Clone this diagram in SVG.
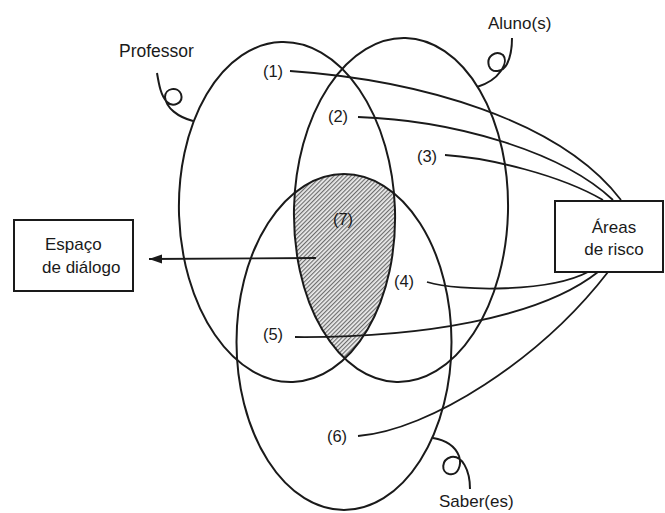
<svg xmlns="http://www.w3.org/2000/svg" width="665" height="513" viewBox="0 0 665 513">
<style>
.sh{fill:none;stroke:#1a1a1a;stroke-width:2}
.cn{fill:none;stroke:#1a1a1a;stroke-width:1.8}
.bx{fill:#fff;stroke:#1a1a1a;stroke-width:2}
.t{font-family:"Liberation Sans",Arial,sans-serif;font-size:17px;fill:#1a1a1a}
.n{font-family:"Liberation Sans",Arial,sans-serif;font-size:16.5px;fill:#1a1a1a;text-anchor:middle}
</style>
<defs>
<pattern id="hatch" width="3" height="3" patternUnits="userSpaceOnUse" patternTransform="rotate(45)">
<rect width="3" height="3" fill="#ececec"/>
<line x1="0.6" y1="0" x2="0.6" y2="3" stroke="#666" stroke-width="1.1"/>
</pattern>
<clipPath id="clipP"><ellipse cx="287" cy="212" rx="108" ry="170" transform="rotate(-2 287 212)"/></clipPath>
<clipPath id="clipA"><ellipse cx="401" cy="210" rx="107" ry="172" transform="rotate(1.5 401 210)"/></clipPath>
<marker id="ah" markerWidth="14" markerHeight="10" refX="13" refY="5" orient="auto" markerUnits="userSpaceOnUse">
<path d="M0,0.5 L13,5 L0,9.5 Z" fill="#1a1a1a"/>
</marker>
</defs>

<g id="hatched-region">
<g clip-path="url(#clipP)"><g clip-path="url(#clipA)">
<ellipse cx="344" cy="342" rx="107.5" ry="168" fill="url(#hatch)"/>
</g></g>
</g>

<g id="professor">
<ellipse class="sh" cx="287" cy="212" rx="108" ry="170" transform="rotate(-2 287 212)"/>
<path class="sh" d="M157,73 C159,85 161,96 167,102 C173,108 184,103 181,94 C178,86 165,88 165,97 C166,108 178,117 193,121"/>
<text class="t" x="119" y="57" style="font-size:17.5px">Professor</text>
</g>

<g id="aluno">
<ellipse class="sh" cx="401" cy="210" rx="107" ry="172" transform="rotate(1.5 401 210)"/>
<path class="sh" d="M512,38 C512,48 511,56 507,64 C503,72 492,74 489,66 C486,56 496,50 503,55 C509,62 500,80 477,87"/>
<text class="t" x="488" y="29">Aluno(s)</text>
</g>

<g id="saber">
<ellipse class="sh" cx="344" cy="342" rx="107.5" ry="168"/>
<path class="sh" d="M433,438 C445,440 455,446 459,456 C462,465 458,476 449,474 C441,472 441,460 451,457 C462,455 470,470 470,489"/>
<text class="t" x="439" y="507">Saber(es)</text>
</g>

<g id="espaco-dialogo">
<rect class="bx" x="14" y="220" width="119" height="71"/>
<text class="t" x="45" y="250">Espaço</text>
<text class="t" x="42" y="273">de diálogo</text>
</g>

<g id="areas-risco">
<rect class="bx" x="555" y="201" width="108" height="71"/>
<text class="t" x="614" y="233" text-anchor="middle">Áreas</text>
<text class="t" x="614" y="255" text-anchor="middle">de risco</text>
</g>

<g id="labels">
<text class="n" x="273" y="77">(1)</text>
<text class="n" x="338" y="122">(2)</text>
<text class="n" x="427" y="162">(3)</text>
<text class="n" x="343" y="225">(7)</text>
<text class="n" x="404" y="287">(4)</text>
<text class="n" x="273" y="340">(5)</text>
<text class="n" x="337" y="442">(6)</text>
</g>

<g id="connectors">
<path class="cn" d="M290,71 C420,80 560,120 621,200"/>
<path class="cn" d="M358,117 C450,120 560,150 613,200"/>
<path class="cn" d="M445,155 C490,158 560,175 603,200"/>
<path class="cn" d="M427,282 C460,292 550,292 588,272"/>
<path class="cn" d="M295,337 C420,338 540,318 598,272"/>
<path class="cn" d="M358,436 C430,430 540,360 608,272"/>
<path class="cn" d="M316,258 L149,259" marker-end="url(#ah)"/>
</g>
</svg>
